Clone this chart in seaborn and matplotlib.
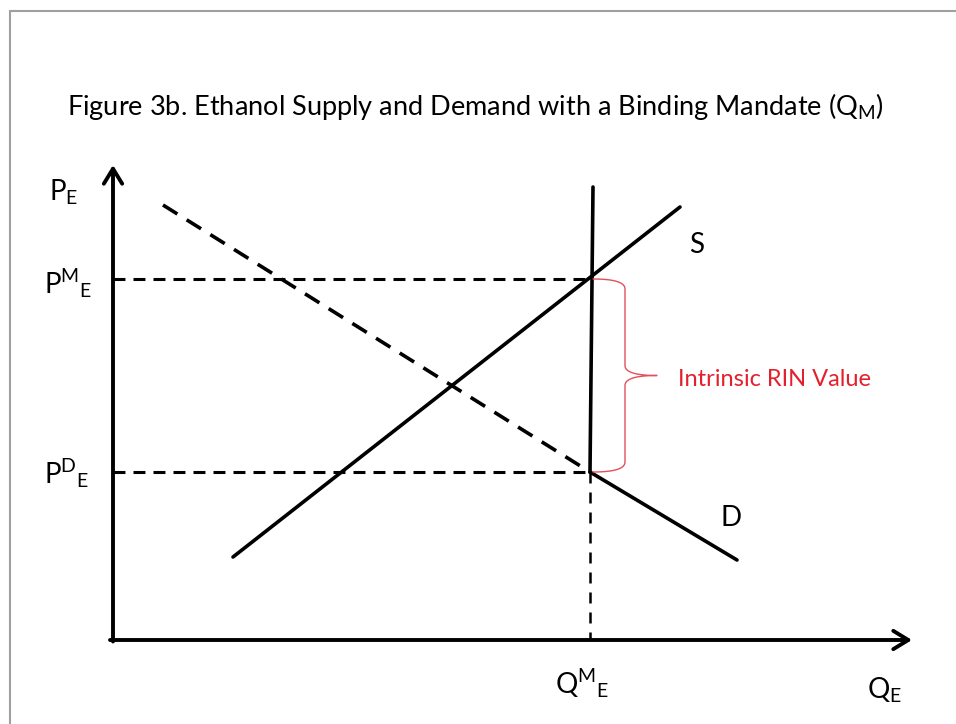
import numpy as np
import pandas as pd
import matplotlib
matplotlib.use("Agg")
import matplotlib.pyplot as plt
from matplotlib.lines import Line2D
import seaborn as sns

# economic diagram in arbitrary units (origin = axes corner)
q_mandate = 4.77
p_mandate = 3.61
p_demand = 1.68

supply_q = [1.20, 5.67]
supply_p = [0.83, 4.33]

demand_dash_q = [0.50, 4.77]
demand_dash_p = [4.35, 1.68]
demand_solid_q = [4.77, 6.24]
demand_solid_p = [1.68, 0.80]

mandate_q = [4.80, 4.77]
mandate_p = [4.53, 1.68]

q_axis_end = 7.99
p_axis_end = 4.75

title = "Figure 3b. Ethanol Supply and Demand with a Binding Mandate (Q$_{\\mathrm{M}}$)"
rin_label = "Intrinsic RIN Value"

sns.set_theme(style="white")
plt.rcParams["font.family"] = ["Lato", "DejaVu Sans"]
plt.rcParams["mathtext.fontset"] = "custom"
plt.rcParams["mathtext.rm"] = "Lato"
plt.rcParams["mathtext.it"] = "Lato:italic"
plt.rcParams["mathtext.bf"] = "Lato:bold"
plt.rcParams["lines.scale_dashes"] = False
plt.rcParams["text.color"] = "black"

fig = plt.figure(figsize=(9.56, 7.24), dpi=100)
ax = fig.add_axes([0, 0, 1, 1])
ax.set_xlim(-1.13, 8.43)
ax.set_ylim(-0.84, 6.40)
ax.axis("off")

# grey frame of the screenshot
fig.add_artist(Line2D([9.5 / 956, 1], [1 - 10.5 / 724] * 2, color="#a0a0a0", lw=1.5))
fig.add_artist(Line2D([9.5 / 956] * 2, [0, 1 - 10.5 / 724], color="#a0a0a0", lw=1.5))

# axes with open arrow heads
arrow = dict(arrowstyle="->,head_length=0.9,head_width=0.55", lw=2.8, color="black",
             shrinkA=0, shrinkB=0)
ax.annotate("", xy=(q_axis_end, 0), xytext=(-0.03, 0), arrowprops=arrow)
ax.annotate("", xy=(0, p_axis_end), xytext=(0, -0.015), arrowprops=arrow)

# guide lines
ax.plot([0, q_mandate], [p_mandate, p_mandate], color="black", lw=2.2,
        linestyle=(0, (8.6, 5.8)))
ax.plot([0, q_mandate], [p_demand, p_demand], color="black", lw=2.2,
        linestyle=(0, (8.6, 5.8)))
ax.plot([q_mandate, q_mandate], [p_demand, 0], color="black", lw=1.8,
        linestyle=(0, (7.9, 6.5)))

# curves
lines = pd.DataFrame({"q": supply_q, "p": supply_p})
sns.lineplot(data=lines, x="q", y="p", ax=ax, color="black", lw=2.6, sort=False)
sns.lineplot(x=demand_dash_q, y=demand_dash_p, ax=ax, color="black", lw=2.6,
             sort=False, linestyle=(0, (12.2, 7.9)))
sns.lineplot(x=demand_solid_q, y=demand_solid_p, ax=ax, color="black", lw=2.6, sort=False)
sns.lineplot(x=mandate_q, y=mandate_p, ax=ax, color="black", lw=2.6, sort=False)

# red brace between P^D and P^M
bx0, bx1, btip = 4.80, 5.12, 5.44
mid = (p_mandate + p_demand) / 2
r = 0.10
t = np.linspace(0, 1, 20)
def qcurve(a, c, b):
    a, c, b = np.array(a), np.array(c), np.array(b)
    return ((1 - t)[:, None] ** 2 * a + 2 * (1 - t)[:, None] * t[:, None] * c
            + t[:, None] ** 2 * b)
segs = [
    qcurve((bx0, p_mandate), (bx1, p_mandate), (bx1, p_mandate - r)),
    np.array([[bx1, p_mandate - r], [bx1, mid + r]]),
    qcurve((bx1, mid + r), (bx1, mid), (btip, mid)),
    qcurve((btip, mid), (bx1, mid), (bx1, mid - r)),
    np.array([[bx1, mid - r], [bx1, p_demand + r]]),
    qcurve((bx1, p_demand + r), (bx1, p_demand), (bx0, p_demand)),
]
brace = np.vstack(segs)
ax.plot(brace[:, 0], brace[:, 1], color="#e2505c", lw=1.0)

red = "#e3212d"
ax.text(5.65, mid - 0.04, rin_label, color=red, fontsize=17, ha="left", va="center")

# labels
ax.text(-0.46, 5.33, title, fontsize=19.5, ha="left", va="center")
ax.text(-0.64, 4.48, "P$_{\\mathrm{E}}$", fontsize=20, ha="left", va="center")
ax.text(-0.69, 3.57, "P$^{\\mathrm{M}}$$_{\\mathrm{E}}$", fontsize=20, ha="left", va="center")
ax.text(-0.69, 1.67, "P$^{\\mathrm{D}}$$_{\\mathrm{E}}$", fontsize=20, ha="left", va="center")
ax.text(4.42, -0.43, "Q$^{\\mathrm{M}}$$_{\\mathrm{E}}$", fontsize=20, ha="left", va="center")
ax.text(7.54, -0.50, "Q$_{\\mathrm{E}}$", fontsize=20, ha="left", va="center")
ax.text(5.84, 3.95, "S", fontsize=20, ha="center", va="center")
ax.text(6.18, 1.22, "D", fontsize=20, ha="center", va="center")

fig.savefig("out.png", dpi=100)
